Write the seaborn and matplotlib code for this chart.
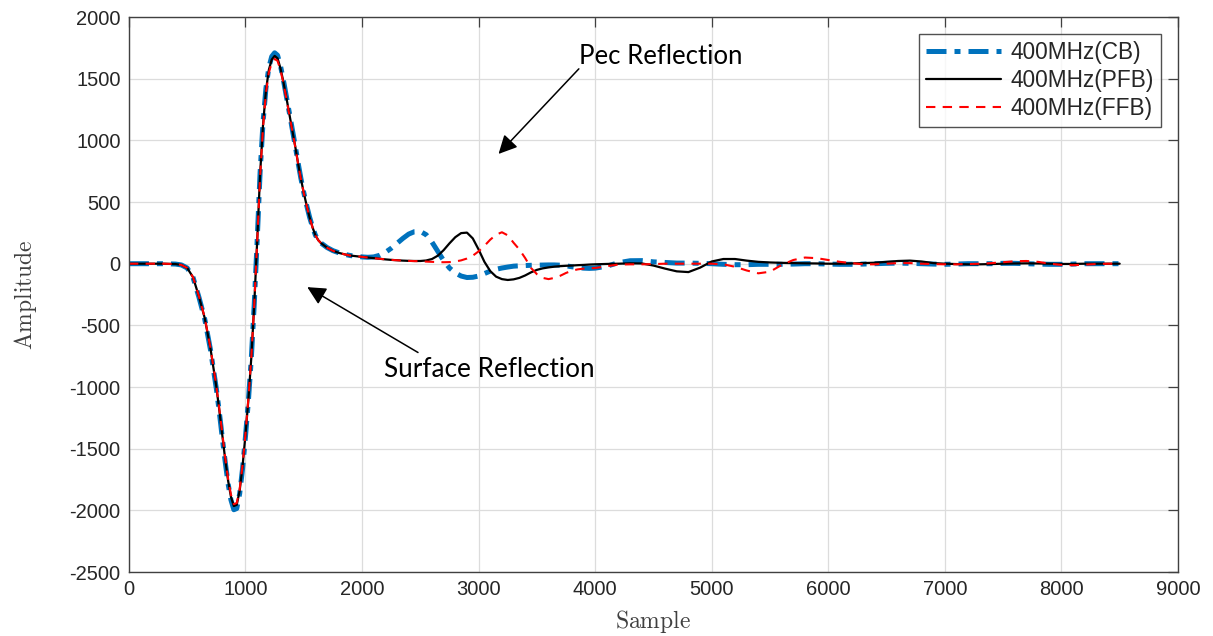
import numpy as np
import pandas as pd
import matplotlib
matplotlib.use("Agg")
import matplotlib.pyplot as plt
import seaborn as sns

# ---------------- data ----------------
sample_pulse = [0, 100, 200, 300, 400, 450, 500, 550, 600, 650, 700,
                725, 750, 775, 800, 825, 850, 875, 900, 925, 950, 975, 1000,
                1025, 1050, 1075, 1100, 1125, 1150, 1175, 1200, 1225, 1250, 1275, 1300,
                1325, 1350, 1375, 1400, 1425, 1450, 1475, 1500, 1525, 1550, 1575, 1600,
                1625, 1650, 1700, 1750, 1800, 1850, 1900]
sample_mid = [2000, 2050, 2100, 2150, 2200, 2250, 2300, 2350, 2400, 2450,
              2500, 2550, 2600, 2650, 2700, 2750, 2800, 2850, 2900, 2950,
              3000, 3050, 3100, 3150, 3200, 3250, 3300, 3350, 3400, 3450,
              3500, 3550, 3600, 3650, 3700, 3750, 3800, 3850, 3900, 3950, 4000]
sample_tail = [4100, 4200, 4300, 4400, 4500, 4600, 4700, 4800, 4900, 5000,
               5100, 5200, 5300, 5400, 5500, 5600, 5700, 5800, 5900, 6000,
               6100, 6200, 6300, 6400, 6500, 6600, 6700, 6800, 6900, 7000,
               7100, 7200, 7300, 7400, 7500, 7600, 7700, 7800, 7900, 8000,
               8100, 8200, 8300, 8400, 8500]

cb_pulse = [0, 0, 0, 0, -3, -10, -35, -112, -270, -448, -700,
            -858, -1015, -1200, -1405, -1600, -1780, -1915, -1995, -1985, -1865, -1660, -1400,
            -1110, -765, -330, 185, 735, 1140, 1420, 1590, 1680, 1710, 1690, 1605,
            1490, 1362, 1230, 1097, 965, 825, 693, 577, 472, 377, 297, 231,
            191, 166, 131, 106, 89, 76, 66]
cb_mid = [55, 52, 55, 68, 92, 125, 165, 205, 240, 260,
          262, 235, 175, 100, 25, -35, -75, -100, -112, -110,
          -100, -80, -60, -45, -35, -27, -20, -17, -15, -13,
          -12, -11, -10, -10, -12, -17, -25, -31, -36, -38, -36]
cb_tail = [-20, 8, 24, 25, 15, 10, 5, 5, 3, 0,
           -5, -8, -8, -5, -5, -5, -3, 0, 0, -3,
           -5, -5, -3, 0, 3, 5, 3, 0, -3, -5,
           -3, 0, 0, 0, 3, 3, 0, -3, -5, -5,
           -3, 0, 0, 0, 0]

pfb_pulse = [0, 0, 0, 0, -3, -10, -35, -110, -265, -440, -690,
             -845, -1000, -1185, -1385, -1580, -1755, -1890, -1965, -1955, -1840, -1640, -1385,
             -1100, -760, -330, 180, 720, 1120, 1400, 1570, 1655, 1685, 1665, 1585,
             1475, 1350, 1220, 1090, 960, 820, 690, 575, 470, 375, 295, 230,
             190, 165, 130, 105, 88, 76, 66]
pfb_mid = [55, 50, 45, 40, 35, 31, 28, 25, 23, 22,
           22, 26, 38, 65, 110, 165, 215, 248, 252, 205,
           115, 15, -60, -105, -125, -132, -127, -115, -95, -70,
           -50, -38, -30, -24, -20, -17, -15, -12, -10, -7, -5]
pfb_tail = [-2, 0, 3, 2, -15, -40, -62, -68, -32, 18,
            38, 38, 25, 15, 10, 7, 5, 3, 2, 0,
            0, 2, 5, 8, 15, 22, 25, 18, 5, 0,
            -3, -5, -5, -3, 0, 2, 3, 2, 0, -2,
            -2, 0, 0, 0, 0]

ffb_pulse = [0, 0, 0, 0, -3, -10, -35, -110, -262, -436, -685,
             -838, -992, -1175, -1372, -1565, -1740, -1872, -1950, -1940, -1828, -1630, -1375,
             -1092, -755, -330, 170, 700, 1100, 1380, 1548, 1630, 1660, 1645, 1570,
             1465, 1342, 1213, 1085, 957, 818, 688, 573, 469, 374, 294, 229,
             189, 164, 129, 105, 88, 76, 66]
ffb_mid = [55, 50, 45, 40, 35, 31, 28, 25, 23, 21,
           20, 17, 15, 13, 12, 13, 18, 27, 42, 65,
           100, 145, 195, 235, 255, 230, 170, 115, 45, -35,
           -85, -115, -125, -115, -98, -75, -57, -46, -40, -37, -35]
ffb_tail = [-20, -7, -5, -5, -3, 0, 0, 0, 0, 0,
            -5, -25, -55, -78, -65, -10, 30, 50, 45, 30,
            15, 5, -5, -5, 0, 5, 5, 0, -3, -5,
            -5, -3, 0, 5, 12, 20, 22, 15, 0, -10,
            -12, -8, -3, 0, 0]

series_names = ["400MHz(CB)", "400MHz(PFB)", "400MHz(FFB)"]
x_ticks = [0, 1000, 2000, 3000, 4000, 5000, 6000, 7000, 8000, 9000]
y_ticks = [-2500, -2000, -1500, -1000, -500, 0, 500, 1000, 1500, 2000]

sample = sample_pulse + sample_mid + sample_tail
series_vals = [cb_pulse + cb_mid + cb_tail,
               pfb_pulse + pfb_mid + pfb_tail,
               ffb_pulse + ffb_mid + ffb_tail]

# ---------------- plot ----------------
sns.set_theme(style="white")
plt.rcParams["font.family"] = ["Liberation Sans", "DejaVu Sans"]
plt.rcParams["mathtext.fontset"] = "cm"
plt.rcParams["axes.unicode_minus"] = False

fig = plt.figure(figsize=(12.13, 6.36), dpi=100)
ax = fig.add_axes([0.1063, 0.1006, 0.8648, 0.8726])

styles = [
    dict(color="#0072BD", linestyle=(0, (4.0, 1.6, 1.2, 1.6)), linewidth=3.6),
    dict(color="black", linestyle="-", linewidth=1.6),
    dict(color="#FF0000", linestyle=(0, (4.5, 3.5)), linewidth=1.5),
]
for vals, name, st in zip(series_vals, series_names, styles):
    sns.lineplot(x=sample, y=vals, ax=ax, label=name, sort=False, estimator=None, **st)

ax.set_xlim(0, 9000)
ax.set_ylim(-2500, 2000)
ax.set_xticks(x_ticks)
ax.set_yticks(y_ticks)
ax.grid(True, color="#dcdcdc", linewidth=0.9)
ax.tick_params(direction="in", length=7, width=0.9, color="#404040",
               labelsize=14.5, top=True, right=True, labelcolor="#262626", pad=6)
for sp in ax.spines.values():
    sp.set_visible(True)
    sp.set_color("#404040")
    sp.set_linewidth(1.0)

ax.set_xlabel(r"$\mathrm{Sample}$", fontsize=17, labelpad=6, color="#404040")
ax.set_ylabel(r"$\mathrm{Amplitude}$", fontsize=17, labelpad=22, color="#404040")

leg = ax.legend(loc="upper right", fontsize=16.3, frameon=True, fancybox=False,
                edgecolor="#262626", handlelength=3.3, borderaxespad=0.75,
                labelspacing=0.22, borderpad=0.3, handletextpad=0.45)
leg.get_frame().set_linewidth(1.0)

arrow = dict(arrowstyle="-|>", color="black", lw=1.1, mutation_scale=28,
             shrinkA=0, shrinkB=0)
ax.annotate("", xy=(3171, 890), xytext=(3860, 1580), arrowprops=arrow)
ax.text(3860, 1683, "Pec Reflection", fontsize=18.5, family=["Lato", "DejaVu Sans"],
        va="center", ha="left", color="black")
ax.annotate("", xy=(1530, -190), xytext=(2480, -720), arrowprops=arrow)
ax.text(2190, -855, "Surface Reflection", fontsize=18.8, family=["Lato", "DejaVu Sans"],
        va="center", ha="left", color="black")

fig.savefig("out.png", dpi=100)
